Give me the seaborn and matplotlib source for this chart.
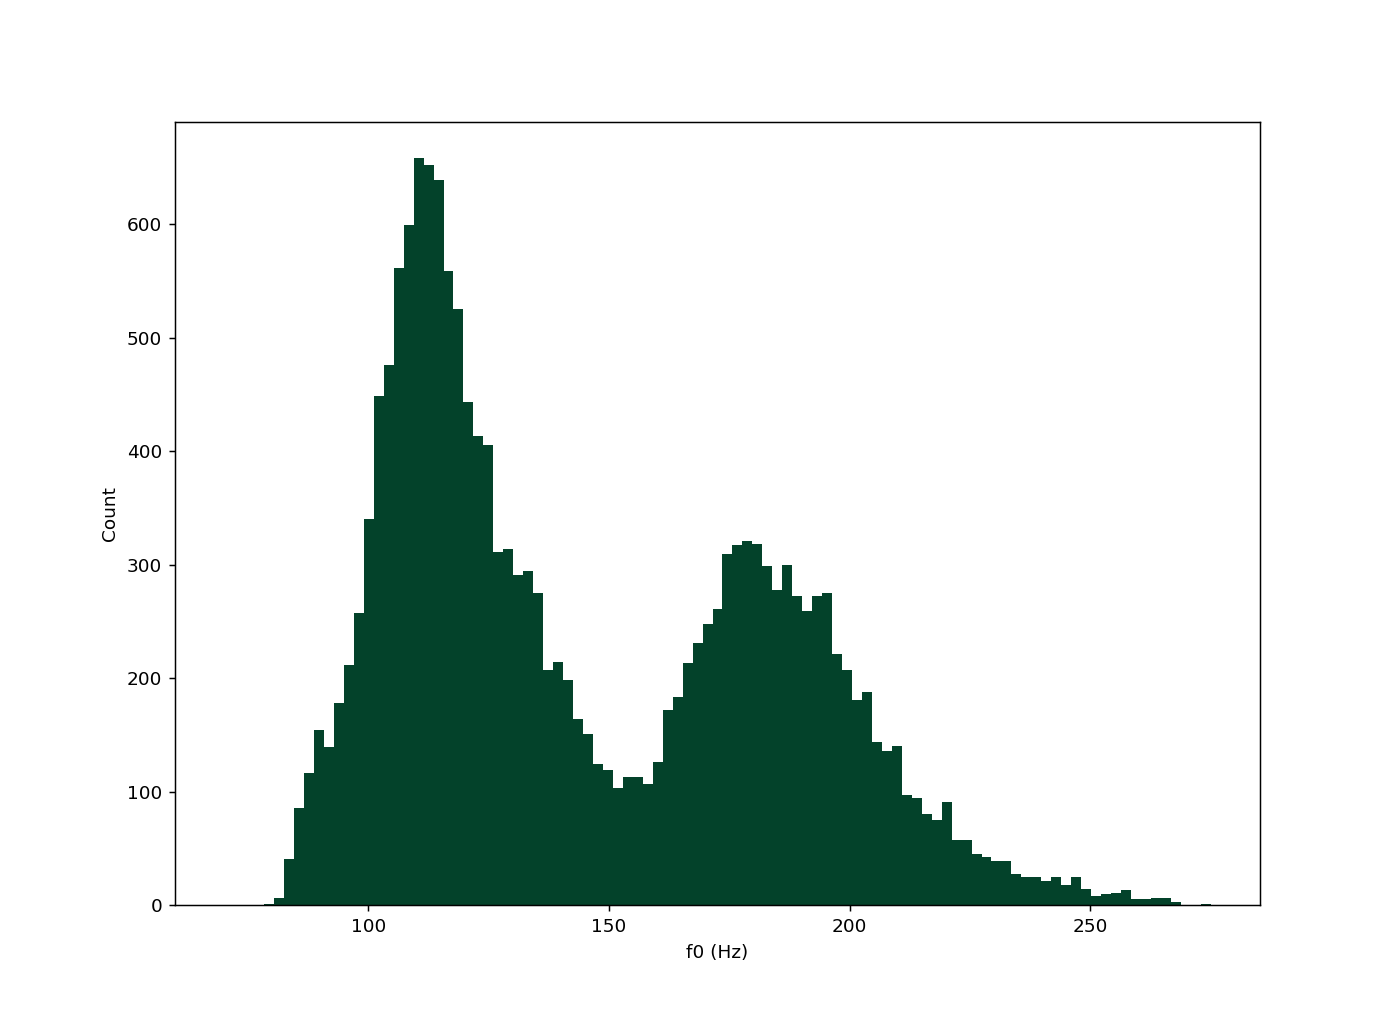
import numpy as np
import pandas as pd
import matplotlib
matplotlib.use("Agg")
import matplotlib.pyplot as plt
import seaborn as sns

# Histogram of f0 values: 99 equal-width bins starting at bin_start
bin_start = 70.12
bin_width = 2.0692
counts = [
    0, 0, 0, 0, 1, 6, 41, 86, 116, 154,
    139, 178, 212, 257, 340, 449, 476, 561, 599, 658,
    652, 639, 559, 525, 443, 413, 405, 311, 314, 291,
    294, 275, 207, 214, 198, 164, 151, 124, 119, 103,
    113, 113, 107, 126, 172, 183, 213, 231, 248, 261,
    309, 317, 321, 318, 299, 278, 300, 272, 259, 272,
    275, 221, 207, 181, 188, 144, 136, 140, 97, 94,
    80, 75, 91, 57, 57, 45, 42, 39, 39, 27,
    25, 25, 21, 25, 18, 25, 14, 8, 10, 11,
    13, 5, 5, 6, 6, 3, 0, 0, 1,
]
x_label = "f0 (Hz)"
y_label = "Count"
bar_color = "#03422a"

n = len(counts)
edges = bin_start + bin_width * np.arange(n + 1)
centers = (edges[:-1] + edges[1:]) / 2
df = pd.DataFrame({"f0": centers, "count": counts})

fig = plt.figure(figsize=(10.5, 10.5 * 1017 / 1400), dpi=1400 / 10.5)
ax = fig.add_subplot(111)
sns.histplot(data=df, x="f0", weights="count", bins=n,
             binrange=(float(edges[0]), float(edges[-1])), ax=ax,
             color=bar_color, alpha=1.0, linewidth=0, element="bars", fill=True)

span = edges[-1] - edges[0]
ax.set_xlim(edges[0] - 0.05 * span, edges[-1] + 0.05 * span)
ax.set_ylim(0, 690)
ax.set_xlabel(x_label)
ax.set_ylabel(y_label)

fig.savefig("out.png", dpi=1400 / 10.5)
